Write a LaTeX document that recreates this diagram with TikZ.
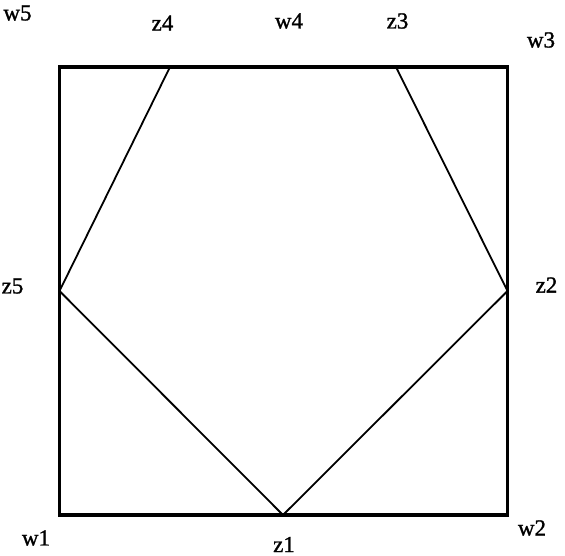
\documentclass[tikz,border=0pt]{standalone}
\usepackage{fontspec}
\setmainfont{Liberation Serif}
\newfontfamily\lblfont[FakeBold=1.2]{Liberation Serif}
\begin{document}
\begin{tikzpicture}[x=1pt,y=-1pt,
  lbl/.style={inner sep=0pt,font=\lblfont\fontsize{23}{23}\selectfont},
  sq/.style={line width=3.1pt,line join=miter},
  pent/.style={line width=1.8pt,line join=miter}]
\useasboundingbox (0,0) rectangle (565,556);
\coordinate (W1) at (59.5,515);
\coordinate (W2) at (507.5,515);
\coordinate (W3) at (507.5,67);
\coordinate (W5) at (59.5,67);
\coordinate (Z1) at (283,515);
\coordinate (Z2) at (507.5,291);
\coordinate (Z3) at (396,67);
\coordinate (Z4) at (170,67);
\coordinate (Z5) at (59.5,291);
\draw[sq] (W1) -- (W2) -- (W3) -- (W5) -- cycle;
\draw[pent] (Z1) -- (Z2) -- (Z3) -- (Z4) -- (Z5) -- cycle;
\node[lbl] (lw5) at (17.5,13) {w5};
\node[lbl] (lz4) at (162.5,23) {z4};
\node[lbl] (lw4) at (289,21) {w4};
\node[lbl] (lz3) at (397.5,21) {z3};
\node[lbl] (lw3) at (541,40) {w3};
\node[lbl] (lz5) at (12.5,286) {z5};
\node[lbl] (lz2) at (546.5,285) {z2};
\node[lbl] (lw1) at (36,538) {w1};
\node[lbl] (lz1) at (284,544.5) {z1};
\node[lbl] (lw2) at (532,528) {w2};
\end{tikzpicture}
\end{document}
